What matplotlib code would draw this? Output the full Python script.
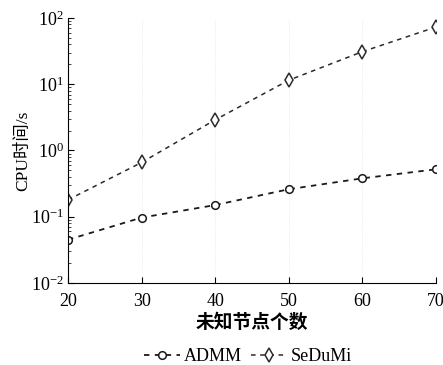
import matplotlib
matplotlib.use('Agg')
import matplotlib.pyplot as plt
import numpy as np

plt.rcParams['font.family'] = ['Liberation Serif', 'Noto Sans CJK SC', 'DejaVu Sans']
plt.rcParams['mathtext.fontset'] = 'stix'

nodes = [20, 30, 40, 50, 60, 70]
admm = [0.045, 0.097, 0.15, 0.26, 0.38, 0.52]
sedumi = [0.18, 0.66, 2.9, 11.5, 31, 73]

fig = plt.figure(figsize=(4.43, 3.65), dpi=100)
ax = fig.add_axes([0.1535, 0.2247, 0.8305, 0.726])

h1, = ax.plot(nodes, admm, '--', color='#1a1a1a', lw=1.3, dashes=(3, 3),
              marker='o', ms=5.5, mfc='white', mec='#1a1a1a', mew=1.1, label='ADMM')
h2, = ax.plot(nodes, sedumi, '--', color='#2a2a2a', lw=1.1, dashes=(3, 3),
              marker='d', ms=7, mfc='white', mec='#2a2a2a', mew=1.1, label='SeDuMi')

ax.set_yscale('log')
ax.set_ylim(1e-2, 1e2)
ax.set_xlim(20, 70)
ax.set_xticks(nodes)
ax.grid(True, axis='x', color='#e4e4e4', ls=':', lw=0.6)
ax.spines['top'].set_visible(False)
ax.spines['right'].set_visible(False)
ax.tick_params(direction='in', labelsize=13, length=4, width=0.8, pad=3)
ax.tick_params(axis='x', pad=7)
ax.tick_params(which='minor', direction='in', length=2, width=0.5)

ax.set_xlabel('未知节点个数', fontsize=13.5, fontweight='bold', labelpad=3)
ax.set_ylabel('CPU时间/s', fontsize=12.5, labelpad=0)

fig.legend(handles=[h1, h2], loc='lower center', bbox_to_anchor=(0.56, -0.045),
           ncol=2, frameon=False, fontsize=13, handlelength=2.0,
           columnspacing=0.5, handletextpad=0.2)

fig.savefig('out.png', dpi=100)
